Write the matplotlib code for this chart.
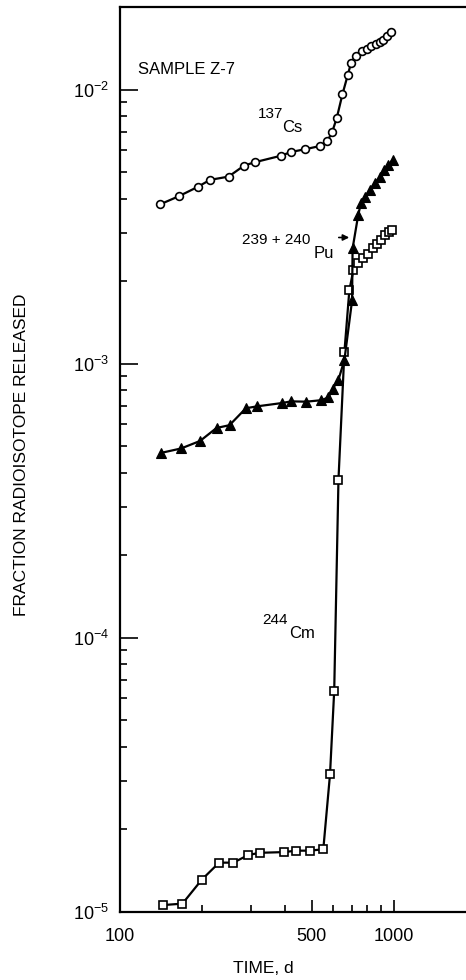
import matplotlib
matplotlib.use("Agg")
import matplotlib.pyplot as plt
from matplotlib import font_manager
from matplotlib.ticker import FixedLocator, NullFormatter, FuncFormatter

# ---- data ----
cs_time = [140, 164, 192, 213, 249, 284, 311, 386, 422, 472, 537, 571, 594, 618,
           648, 678, 697, 725, 762, 795, 824, 858, 889, 914, 940, 975]
cs_frac = [3.81e-3, 4.08e-3, 4.41e-3, 4.68e-3, 4.81e-3, 5.28e-3, 5.43e-3, 5.73e-3,
           5.92e-3, 6.05e-3, 6.22e-3, 6.49e-3, 6.97e-3, 7.87e-3, 9.59e-3, 1.13e-2,
           1.25e-2, 1.33e-2, 1.38e-2, 1.41e-2, 1.44e-2, 1.47e-2, 1.49e-2, 1.52e-2,
           1.57e-2, 1.62e-2]

pu_time = [141, 167, 196, 225, 251, 288, 316, 391, 421, 478, 542, 576, 598, 626,
           659, 703, 706, 740, 757, 785, 817, 852, 889, 920, 954, 989]
pu_frac = [4.72e-4, 4.90e-4, 5.22e-4, 5.82e-4, 5.96e-4, 6.87e-4, 6.98e-4, 7.18e-4,
           7.28e-4, 7.26e-4, 7.35e-4, 7.52e-4, 8.11e-4, 8.69e-4, 1.03e-3, 1.70e-3,
           2.63e-3, 3.48e-3, 3.84e-3, 4.06e-3, 4.31e-3, 4.56e-3, 4.80e-3, 5.07e-3,
           5.29e-3, 5.54e-3]

cm_time = [143, 169, 199, 230, 259, 294, 323, 396, 440, 493, 552, 584, 605, 627,
           659, 687, 711, 741, 773, 806, 836, 864, 897, 928, 957, 986]
cm_frac = [1.057e-5, 1.07e-5, 1.31e-5, 1.51e-5, 1.51e-5, 1.61e-5, 1.64e-5, 1.65e-5,
           1.67e-5, 1.67e-5, 1.69e-5, 3.17e-5, 6.41e-5, 3.77e-4, 1.10e-3, 1.85e-3,
           2.20e-3, 2.32e-3, 2.42e-3, 2.52e-3, 2.63e-3, 2.72e-3, 2.82e-3, 2.94e-3,
           3.03e-3, 3.06e-3]

x_major = [100, 500, 1000]
x_major_labels = ["100", "500", "1000"]
x_minor = [200, 300, 400, 600, 700, 800, 900]
y_decades = [1e-5, 1e-4, 1e-3, 1e-2]
y_exponents = [-5, -4, -3, -2]

# ---- font ----
def pick_font():
    for name in ["Liberation Sans Narrow", "DejaVu Sans Condensed", "Liberation Sans"]:
        try:
            font_manager.findfont(name, fallback_to_default=False)
            return name
        except Exception:
            pass
    return "DejaVu Sans"

FONT = pick_font()
plt.rcParams["font.family"] = [FONT, "DejaVu Sans"]
plt.rcParams["mathtext.fontset"] = "custom"
plt.rcParams["mathtext.rm"] = FONT
plt.rcParams["mathtext.it"] = FONT
plt.rcParams["mathtext.bf"] = FONT

W, H = 466, 980
fig = plt.figure(figsize=(W / 100, H / 100), dpi=100)

def fx(px):
    return px / W

def fy(py):
    return 1 - py / H

ax = fig.add_axes([fx(120), fy(911.7), 1 - fx(120), fy(7) - fy(911.7)])
ax.set_xscale("log")
ax.set_yscale("log")
ax.set_xlim(100, 1831)
ax.set_ylim(1e-5, 0.02)

lw = 1.6
ax.plot(cs_time, cs_frac, color="black", lw=lw, marker="o", ms=5.6,
        mfc="white", mec="black", mew=1.2, zorder=3)
ax.plot(cm_time, cm_frac, color="black", lw=lw, marker="s", ms=5.8,
        mfc="white", mec="black", mew=1.2, zorder=3)
ax.plot(pu_time, pu_frac, color="black", lw=lw, marker="^", ms=6.5,
        mfc="black", mec="black", mew=0.8, zorder=4)

# spines
ax.spines["right"].set_visible(False)
for s in ["left", "bottom", "top"]:
    ax.spines[s].set_linewidth(1.6)

# ticks
ax.xaxis.set_major_locator(FixedLocator(x_major))
ax.xaxis.set_minor_locator(FixedLocator(x_minor))
ax.xaxis.set_major_formatter(FuncFormatter(lambda v, p: x_major_labels[x_major.index(int(round(v)))]
                                           if int(round(v)) in x_major else ""))
ax.xaxis.set_minor_formatter(NullFormatter())
y_minor = [m * d for d in [1e-5, 1e-4, 1e-3, 1e-2] for m in range(2, 10) if m * d < 0.02]
ax.yaxis.set_major_locator(FixedLocator(y_decades))
ax.yaxis.set_minor_locator(FixedLocator(y_minor))
ax.yaxis.set_major_formatter(FuncFormatter(
    lambda v, p: r"$\mathregular{10^{%d}}$" % y_exponents[y_decades.index(v)] if v in y_decades else ""))
ax.yaxis.set_minor_formatter(NullFormatter())

ax.tick_params(axis="both", which="both", direction="in", top=False, right=False,
               width=1.2, colors="black")
ax.tick_params(axis="y", which="major", length=13, pad=8, labelsize=13)
ax.tick_params(axis="y", which="minor", length=5)
ax.tick_params(axis="x", which="major", length=9, pad=12, labelsize=13)
ax.tick_params(axis="x", which="minor", length=5)

# labels
fig.text(fx(263), fy(968), "TIME, d", ha="center", va="center", fontsize=12.5)
fig.text(fx(22), fy(455), "FRACTION RADIOISOTOPE RELEASED", ha="center", va="center",
         rotation=90, fontsize=12.5)

# annotations
fig.text(fx(138), fy(70), "SAMPLE Z-7", ha="left", va="center", fontsize=12)
fig.text(fx(258), fy(114), "137", ha="left", va="center", fontsize=11)
fig.text(fx(282), fy(128), "Cs", ha="left", va="center", fontsize=12)
fig.text(fx(242), fy(240), "239 + 240", ha="left", va="center", fontsize=11)
fig.text(fx(314), fy(253), "Pu", ha="left", va="center", fontsize=12)
fig.text(fx(262), fy(620), "244", ha="left", va="center", fontsize=11)
fig.text(fx(289), fy(634), "Cm", ha="left", va="center", fontsize=12)
fig.add_artist(matplotlib.patches.FancyArrowPatch(
    (fx(336), fy(237.5)), (fx(352), fy(237.5)), transform=fig.transFigure,
    arrowstyle="-|>", mutation_scale=9, color="black", lw=1.2))

fig.savefig("out.png", dpi=100)
